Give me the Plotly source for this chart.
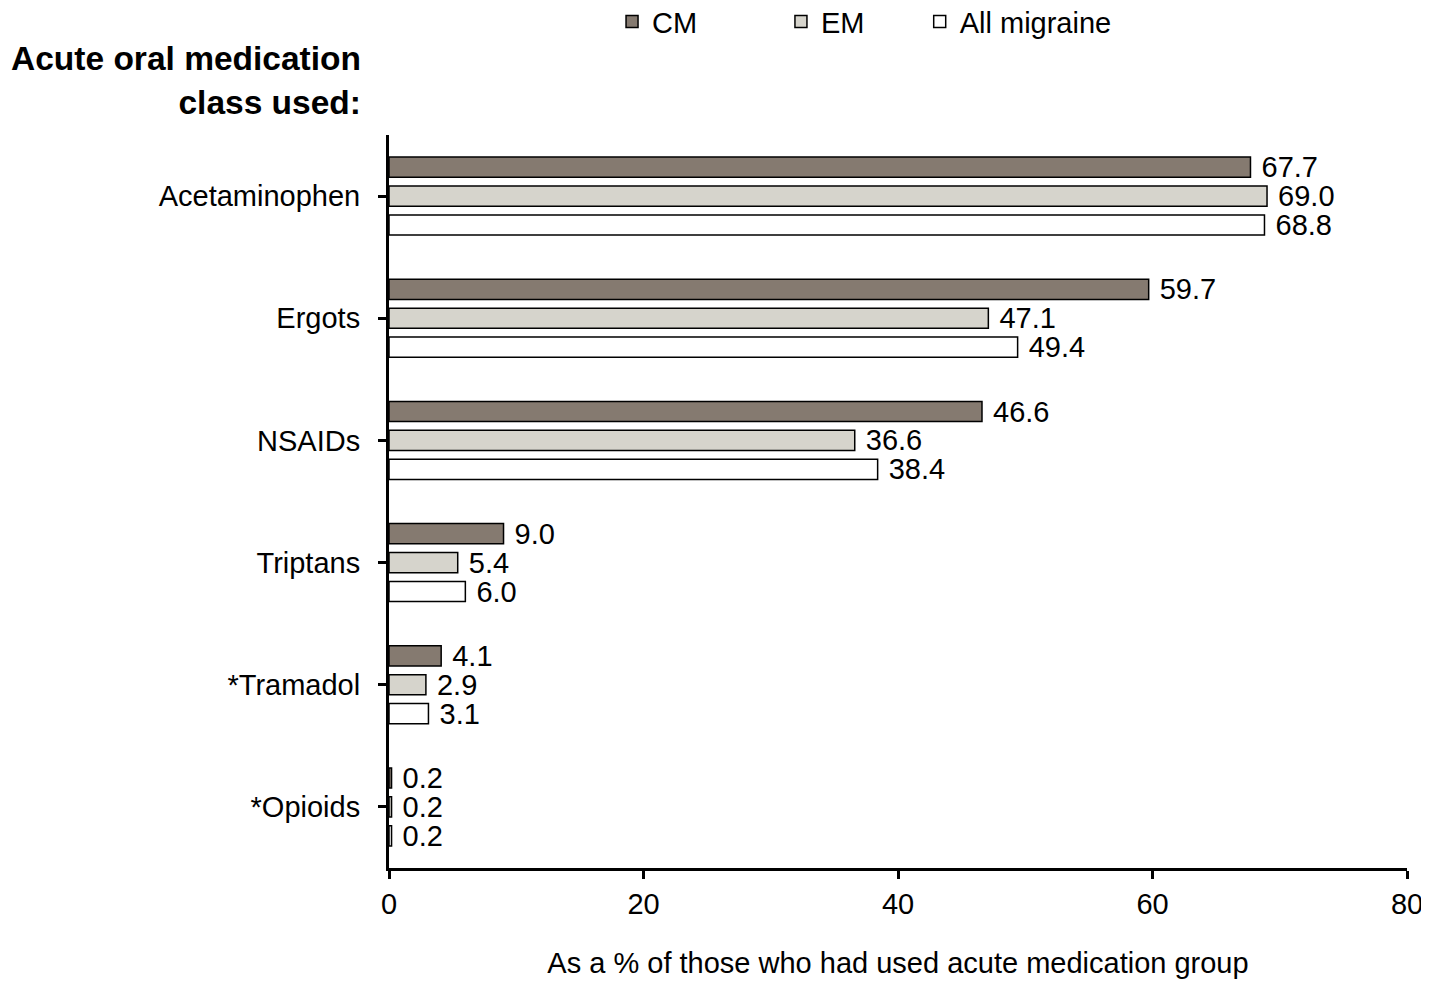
import plotly.graph_objects as go

# data
classes = ['Acetaminophen', 'Ergots', 'NSAIDs', 'Triptans', '*Tramadol', '*Opioids']
cm = [67.7, 59.7, 46.6, 9.0, 4.1, 0.2]
em = [69.0, 47.1, 36.6, 5.4, 2.9, 0.2]
all_migraine = [68.8, 49.4, 38.4, 6.0, 3.1, 0.2]
x_ticks = [0, 20, 40, 60, 80]

FONT = 'Arial, Liberation Sans, sans-serif'
FS = 29

series = [
    ('CM', cm, '#857a70', 'legend'),
    ('EM', em, '#d6d4cc', 'legend2'),
    ('All migraine', all_migraine, '#ffffff', 'legend3'),
]

fig = go.Figure()
for name, vals, col, leg in series:
    fig.add_trace(go.Bar(
        y=classes, x=vals, name=name, orientation='h',
        marker=dict(color=col, line=dict(color='black', width=1.5)),
        text=['\u00a0' + f'{v:.1f}' for v in vals], textposition='outside',
        textfont=dict(size=FS, color='black', family=FONT),
        constraintext='none', cliponaxis=False, legend=leg, showlegend=True,
    ))

leg_common = dict(orientation='h', xref='container', yref='container',
                  yanchor='middle', y=0.986, xanchor='left',
                  font=dict(size=FS, color='black', family=FONT),
                  bgcolor='rgba(0,0,0,0)', itemwidth=30)

fig.update_layout(
    width=1429, height=983,
    margin=dict(l=381, r=30, t=127, b=123, autoexpand=False),
    plot_bgcolor='white', paper_bgcolor='white',
    font=dict(family=FONT, size=FS, color='black'),
    barmode='group', bargap=0.29, bargroupgap=0.3,
    showlegend=True,
    legend=dict(x=0.4227, **leg_common),
    legend2=dict(x=0.5409, **leg_common),
    legend3=dict(x=0.638, **leg_common),
    xaxis=dict(range=[0, 80], tickvals=x_ticks, showline=True, linecolor='black',
               linewidth=3, ticks='outside', ticklen=8, tickwidth=3, tickcolor='black',
               showgrid=False, zeroline=False, tickfont=dict(size=FS), automargin=False,
               title=dict(text='As a % of those who had used acute medication group',
                          font=dict(size=FS), standoff=34)),
    yaxis=dict(categoryorder='array', categoryarray=classes, autorange='reversed',
               showline=True, linecolor='black', linewidth=3, ticks='outside',
               ticklen=8, tickwidth=3, tickcolor='black', showgrid=False,
               tickfont=dict(size=FS), ticklabelstandoff=12, automargin=False),
)

fig.add_annotation(text='<b>Acute oral medication<br>class used:</b>', xref='paper', yref='paper',
                   x=-0.0255, y=1.075, xanchor='right', yanchor='middle', align='right',
                   showarrow=False, font=dict(size=33.5, family=FONT, color='black'))

fig.write_html('out.html')
